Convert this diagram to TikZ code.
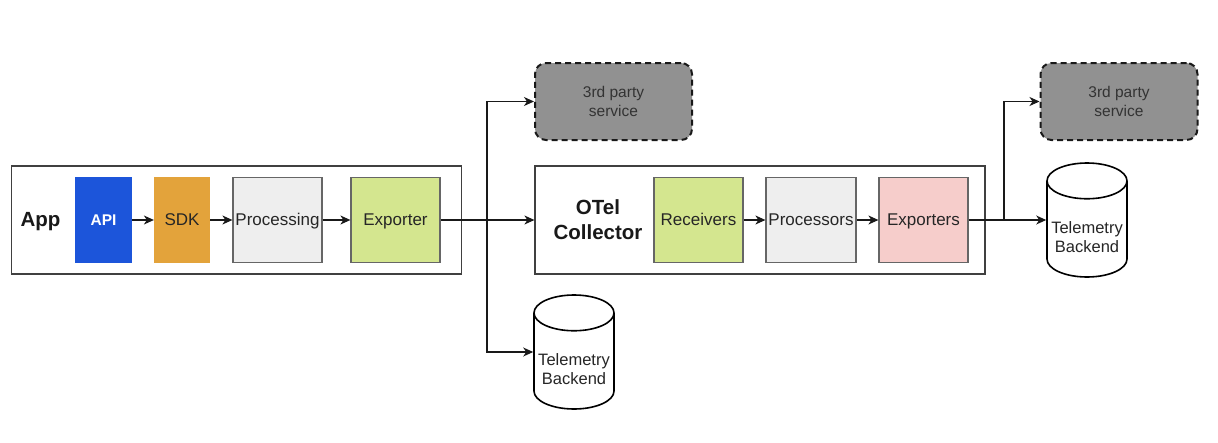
\documentclass[tikz,border=0pt]{standalone}
\usepackage{fontspec}
\setmainfont{Liberation Sans}
\usetikzlibrary{arrows.meta,shapes.geometric}

\definecolor{apiblue}{HTML}{1C55DA}
\definecolor{sdkorange}{HTML}{E3A33B}
\definecolor{stagegreen}{HTML}{D4E68F}
\definecolor{stagegray}{HTML}{EEEEEE}
\definecolor{stagepink}{HTML}{F6CDCB}

\tikzset{
  stagebox/.style={draw=black!60,line width=1.2pt,minimum height=85pt,inner sep=0pt,
    text height=12pt,text depth=1pt,font=\fontsize{17}{19}\selectfont,text=black!85},
  groupbox/.style={draw=black!75,line width=1.2pt,fill=white,minimum width=450pt,minimum height=108pt},
  grouptitle/.style={font=\fontsize{20.5}{25}\bfseries\selectfont,align=center,text=black!90},
  servicebox/.style={draw=black!90,line width=2pt,dash pattern=on 6pt off 4pt,fill=black!43,
    rounded corners=11pt,minimum width=157pt,minimum height=77pt,align=center,
    font=\fontsize{15.5}{19}\selectfont,text=black!80},
  storebox/.style={cylinder,shape border rotate=90,draw=black,line width=1.6pt,fill=white,
    minimum width=80pt,minimum height=114pt,aspect=0.5,inner sep=0pt,align=center,anchor=shape center,
    font=\fontsize{16.5}{19}\selectfont,text=black!85},
  flow/.style={-{Stealth[length=10pt,width=9pt,inset=3pt]},line width=1.2pt,draw=black!90}
}

\begin{document}
\begin{tikzpicture}[x=1pt,y=-1pt]
  \useasboundingbox (0,0) rectangle (1218,442);
  % application side
  \node[groupbox] (appbox) at (236.5,220) {};
  \node[grouptitle] (apptitle) at (40.5,221.5) {App};
  \node[stagebox,fill=apiblue,draw=apiblue,minimum width=56pt,text=white,
    font=\fontsize{15.5}{19}\bfseries\selectfont] (api) at (103.5,220) {API};
  \node[stagebox,fill=sdkorange,draw=sdkorange,minimum width=55pt] (sdk) at (182,220) {SDK};
  \node[stagebox,fill=stagegray,minimum width=89pt] (processing) at (277.5,220) {Processing};
  \node[stagebox,fill=stagegreen,minimum width=89pt] (exporter) at (395.5,220) {Exporter};
  % collector side
  \node[groupbox] (otelbox) at (760,220) {};
  \node[grouptitle] (oteltitle) at (598,220) {OTel\\Collector};
  \node[stagebox,fill=stagegreen,minimum width=89pt] (receivers) at (698.5,220) {Receivers};
  \node[stagebox,fill=stagegray,minimum width=90pt] (processors) at (811,220) {Processors};
  \node[stagebox,fill=stagepink,minimum width=89pt] (exporters) at (923.5,220) {Exporters};
  % services and backends
  \node[servicebox] (serviceone) at (613.5,101.5) {3rd party\\service};
  \node[servicebox] (servicetwo) at (1119,101.5) {3rd party\\service};
  \node[storebox] (backendone) at (574,352) {\rule{0pt}{28pt}Telemetry\\Backend};
  \node[storebox] (backendtwo) at (1087,220) {\rule{0pt}{28pt}Telemetry\\Backend};
  \coordinate (splitone) at (487,220);
  \coordinate (splittwo) at (1004,220);
  % connectors
  \draw[flow] (api) -- (sdk);
  \draw[flow] (sdk) -- (processing);
  \draw[flow] (processing) -- (exporter);
  \draw[flow] (exporter) -- (otelbox.west);
  \draw[flow] (splitone) |- (serviceone.west);
  \draw[flow] (splitone) |- (backendone.shape center -| backendone.west);
  \draw[flow] (receivers) -- (processors);
  \draw[flow] (processors) -- (exporters);
  \draw[flow] (exporters) -- (backendtwo.shape center -| backendtwo.west);
  \draw[flow] (splittwo) |- (servicetwo.west);
\end{tikzpicture}
\end{document}
